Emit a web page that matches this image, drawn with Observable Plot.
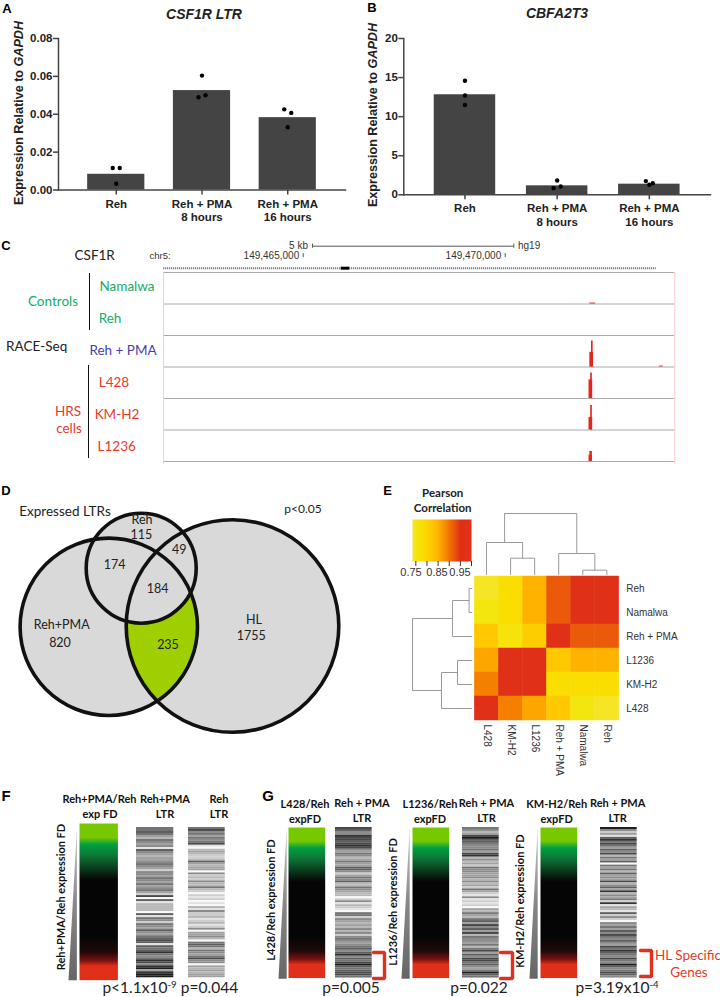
<!DOCTYPE html>
<html><head><meta charset="utf-8">
<script src="https://cdn.jsdelivr.net/npm/d3@7"></script>
<script src="https://cdn.jsdelivr.net/npm/@observablehq/plot@0.6"></script>
<style>
html,body{margin:0;padding:0;background:#fff}
#root{position:relative;width:720px;height:997px;overflow:hidden;background:#fff}
#root>svg{position:absolute;margin:0;overflow:visible}
.t{position:absolute;white-space:nowrap;line-height:1}
sup{font-size:.62em;line-height:0;vertical-align:.55em}
</style></head><body><div id="root"></div>
<script>
// ---------- data ----------
const barGroups = ["Reh", "Reh + PMA\n8 hours", "Reh + PMA\n16 hours"];
const csf1rMeans = [0.0083, 0.0525, 0.0382];
// [group, value, side of the bar centre]
const csf1rPoints = [[0,0.0116,-1],[0,0.0033,0],[0,0.0116,1],[1,0.0490,-1],[1,0.0604,0],[1,0.0500,1],[2,0.0426,-1],[2,0.0331,0],[2,0.0407,1]];
const cbfa2t3Means = [12.8, 1.15, 1.36];
const cbfa2t3Points = [[0,14.6,0],[0,12.7,0],[0,11.5,0],[1,0.85,-1],[1,1.83,0],[1,1.07,1],[2,1.75,-1],[2,1.28,0],[2,1.49,1]];

const trackLines = [0,1,2,3,4,5,6];
const genomeDomain = [149461542, 149474198];
const coordTicks = [149465000, 149470000];
const geneBody = [149461542, 149473740];
const geneExon = [149465941, 149466153];
const scaleBar = [149465230, 149470213];
// [track baseline, start, end, height in track units]
const peaks = [
 [1,149472095,149472240,0.03],
 [3,149472095,149472186,0.465],[3,149472136,149472177,0.825],[3,149473819,149473910,0.03],
 [4,149472075,149472166,0.59],[4,149472116,149472157,0.81],
 [5,149472075,149472166,0.40],[5,149472116,149472157,0.78],
 [6,149472075,149472157,0.20],[6,149472095,149472157,0.32]
];

const vennSets = [
 {name:"Reh+PMA", cx:108.3, cy:626.3, r:88.7},
 {name:"Reh", cx:140.7, cy:567.7, r:55},
 {name:"HL", cx:232, cy:625.5, r:106.3}
];

const heatCols = ["L428","KM-H2","L1236","Reh + PMA","Namalwa","Reh"];
const heatRows = ["Reh","Namalwa","Reh + PMA","L1236","KM-H2","L428"];
const heatValues = [
 [0.74,0.78,0.85,0.92,0.97,0.97],
 [0.75,0.78,0.85,0.92,0.97,0.97],
 [0.82,0.76,0.81,0.97,0.92,0.92],
 [0.86,0.955,0.96,0.82,0.85,0.85],
 [0.89,0.97,0.955,0.78,0.78,0.78],
 [0.97,0.89,0.86,0.82,0.75,0.74]
];
const corrStops = [0.735,0.75,0.78,0.82,0.85,0.89,0.92,0.95,1];
const corrColors = ["#f8e430","#f3e60f","#fade00","#ffc800","#ffb300","#f58000","#ea5a08","#e03018","#e03018"];
const corrTicks = [0.75,0.8,0.85,0.9,0.95,1];
// [position a, position b, height of a, height of b, height of merge]
const colMerges = [[1,2,0,0,16.3],[0,1.5,0,16.3,32],[4,5,0,0,4.3],[3,4.5,0,4.3,21],[0.75,3.75,32,21,61]];
const rowMerges = [[0,1,0,0,2.7],[0.5,2,2.7,0,19.3],[3,4,0,0,14.3],[3.5,5,14.3,0,30.3],[1.25,4.25,19.3,30.3,59.3]];

const fdStops = [0,0.09,0.135,0.2,0.36,0.72,0.82,0.875,0.91,1];
const fdColors = ["#78c800","#78c800","#00a040","#0e7a38","#050505","#050505","#1e0a08","#7a1210","#e03018","#e03018"];

const stripF1 = [6,6,7,6,4,3,6,5,4,5,1,7,5,4,3,4,4,5,6,5,4,2,5,5,4,6,5,4,6,4,5,6,4,2,8,0,7,1,3,3,3,3,0,7,1,6,5,2,6,5,4,7,5,4,6,7,8,7,1,7,6,7,9,6,5,6,9,8,5,9,10,4,9,10,10];
const stripF2 = [6,8,5,6,4,6,5,6,8,1,0,3,4,3,2,2,3,7,4,3,4,4,0,5,2,3,2,5,3,3,6,3,2,0,2,1,2,0,1,0,3,1,5,2,2,3,1,2,3,1,2,5,0,4,4,5,3,0,6,7,6,3,6,5,4,6,8,5,5,0,4,3,4,3,4,4];
const stripG1 = [8,7,5,5,9,8,8,7,8,9,8,5,4,6,5,3,4,6,4,4,7,7,5,2,4,6,5,7,3,3,6,5,4,3,3,0,2,5,1,3,2,1,0,6,6,2,5,4,3,4,3,5,3,5,2,5,6,5,4,5,6,7,5,7,9,5,7,6,8,10,7,6,7,8,8,6];
const stripG2 = [6,5,3,4,8,10,7,7,6,5,5,6,4,8,9,3,5,3,4,2,6,5,5,4,4,5,3,5,3,4,2,6,4,2,1,5,1,2,1,2,0,4,3,6,4,3,6,7,4,8,5,7,4,8,3,6,5,5,4,6,3,6,8,4,7,5,8,8,6,7,5,4,6,10,7,6];
const stripG3 = [10,5,2,4,1,7,9,6,8,6,4,7,5,8,3,6,4,7,0,6,4,6,3,7,4,5,4,8,3,5,7,4,9,3,5,4,6,2,9,1,4,3,1,7,2,5,2,0,5,4,6,4,7,5,8,6,5,7,5,4,8,6,9,7,6,5,8,6,5,10,7,5,6,8,7,5];

// ---------- helpers ----------
const root = document.getElementById("root");
const SANS = "'Liberation Sans',Arial,sans-serif", HUM = "Lato,'Open Sans',sans-serif";
function place(svg, left, top){ svg.style.left = left+"px"; svg.style.top = top+"px"; root.appendChild(svg); return svg; }
function lab(x, y, html, o={}){
  const d = document.createElement("div"); d.className = "t"; d.innerHTML = html;
  const anchor = o.anchor==="start" ? "0" : o.anchor==="end" ? "-100%" : "-50%";
  d.style.cssText += `left:${x}px;top:${y}px;font-family:${o.family||HUM};font-size:${o.size||13}px;font-weight:${o.weight||"normal"};color:${o.color||"#222"};text-align:center;transform:translate(${anchor},-50%)${o.rotate?` rotate(${o.rotate}deg)`:""};`;
  root.appendChild(d); return d;
}
function block(x, y, w, h, color){
  const d = document.createElement("div");
  d.style.cssText = `position:absolute;left:${x}px;top:${y}px;width:${w}px;height:${h}px;background:${color}`;
  root.appendChild(d);
}

// ---------- A, B ----------
function barPlot(means, points, o){
  const table = barGroups.map((g,i)=>({g, v:means[i]}));
  const pts = points.map(([i,v,s])=>({g:barGroups[i], v, s}));
  const axisStyle = {stroke:"#444", strokeWidth:1.5, tickSize:5, label:null};
  return Plot.plot({
    width:o.width, height:o.height, marginLeft:o.ml, marginRight:o.mr, marginTop:o.mt, marginBottom:o.mb,
    style:{fontFamily:SANS, fontSize:"11.5px", fontWeight:"bold", color:"#222", background:"transparent", overflow:"visible"},
    x:{domain:barGroups, padding:0.333, paddingOuter:o.po, round:false},
    y:{domain:o.domain},
    marks:[
      Plot.barY(table,{x:"g",y:"v",fill:"#444"}),
      ...[-1,0,1].map(s=>Plot.dot(pts.filter(d=>d.s===s),{x:"g",y:"v",dx:s*3.5,r:2.2,fill:"#000"})),
      Plot.axisY({...axisStyle, ticks:o.ticks, tickFormat:o.fmt, tickPadding:1}),
      Plot.axisX({...axisStyle, tickPadding:3, lineHeight:1.17}),
      Plot.frame({anchor:"left",stroke:"#444",strokeWidth:1.5}),
      Plot.frame({anchor:"bottom",stroke:"#444",strokeWidth:1.5})
    ]
  });
}
place(barPlot(csf1rMeans, csf1rPoints, {width:350,height:225,ml:58,mr:5,mt:38,mb:35.5,po:0.34,domain:[0,0.08],ticks:[0,0.02,0.04,0.06,0.08],fmt:d3.format(".2f")}),0,0);
place(barPlot(cbfa2t3Means, cbfa2t3Points, {width:360,height:225,ml:43.3,mr:10,mt:38,mb:30.7,po:0.33,domain:[0,20],ticks:[0,5,10,15,20],fmt:d3.format("d")}),360,0);
lab(204,13.5,"CSF1R LTR",{family:SANS,size:14,weight:"bold"}).style.fontStyle="italic";
lab(557,12.7,"CBFA2T3",{family:SANS,size:14,weight:"bold"}).style.fontStyle="italic";
lab(19,113,"Expression Relative to <i>GAPDH</i>",{family:SANS,size:12.6,weight:"bold",rotate:-90});
lab(373,115,"Expression Relative to <i>GAPDH</i>",{family:SANS,size:12.6,weight:"bold",rotate:-90});

// ---------- C ----------
const peakRows = peaks.map(([t,a,b,h])=>({t,a,b,top:t-h}));
place(Plot.plot({
  width:720,height:230,marginLeft:163,marginRight:45.7,marginTop:32,marginBottom:9,
  style:{fontFamily:SANS,fontSize:"10px",color:"#333",background:"transparent",overflow:"visible"},
  x:{domain:genomeDomain,axis:null},
  y:{domain:[6,0],axis:null},
  marks:[
    Plot.ruleY(trackLines,{stroke:"#aaa",strokeWidth:1}),
    Plot.ruleX(genomeDomain,{y1:0,y2:6.1,stroke:"#ffc8cc",strokeWidth:1}),
    Plot.ruleY([-0.137],{x1:geneBody[0],x2:geneBody[1],stroke:"#7878b8",strokeWidth:2,strokeDasharray:"1.2,0.8"}),
    Plot.ruleY([-0.137],{x1:geneExon[0],x2:geneExon[1],stroke:"#000",strokeWidth:3}),
    Plot.ruleY([-0.835],{x1:scaleBar[0],x2:scaleBar[1],stroke:"#555",strokeWidth:1}),
    Plot.ruleX(scaleBar,{y1:-0.9,y2:-0.77,stroke:"#555"}),
    Plot.ruleX(coordTicks,{y1:-0.6,y2:-0.47,stroke:"#555"}),
    Plot.text(coordTicks,{x:d=>d,y:-0.54,text:d=>d3.format(",")(d),textAnchor:"end",dx:-4}),
    Plot.rect(peakRows,{x1:"a",x2:"b",y1:"t",y2:"top",fill:"#e3261c"})
  ]
}),0,240);
lab(94.7,256,"CSF1R",{size:13.5,color:"#222"});
lab(160,255.7,"chr5:",{family:SANS,size:9.5,color:"#333"});
lab(308,246,"5 kb",{family:SANS,size:10,color:"#333",anchor:"end"});
lab(518,245.5,"hg19",{family:SANS,size:10,color:"#333",anchor:"start"});
const GREEN="#14ad6b", BLUE="#4a3fa6", RED="#e8392a";
lab(127,286.7,"Namalwa",{size:13.5,color:GREEN});
lab(110,319,"Reh",{size:13.5,color:GREEN});
lab(53,302,"Controls",{size:13.5,color:GREEN});
lab(36.7,346.7,"RACE-Seq",{size:13.5,color:"#222"});
lab(123,350.7,"Reh + PMA",{size:13.5,color:BLUE});
lab(114,382.7,"L428",{size:13.5,color:RED});
lab(117,415,"KM-H2",{size:13.5,color:RED});
lab(116.7,447,"L1236",{size:13.5,color:RED});
lab(68,412,"HRS",{size:13.5,color:RED});
lab(69,429.3,"cells",{size:13.5,color:RED});
block(88.7,272.7,1.4,57.5,"#111");
block(87.7,365,1.4,93,"#111");

// ---------- D ----------
function inter(a,b){
  const dx=b.cx-a.cx, dy=b.cy-a.cy, d=Math.hypot(dx,dy);
  const l=(a.r*a.r-b.r*b.r+d*d)/(2*d), h=Math.sqrt(a.r*a.r-l*l);
  const mx=a.cx+l*dx/d, my=a.cy+l*dy/d;
  const p1={x:mx+h*dy/d,y:my-h*dx/d}, p2={x:mx-h*dy/d,y:my+h*dx/d};
  return p1.y>p2.y?p1:p2;
}
function arc(c,p,q){
  const a0=Math.atan2(p.y-c.cy,p.x-c.cx); let a1=Math.atan2(q.y-c.cy,q.x-c.cx);
  let da=a1-a0; while(da>Math.PI)da-=2*Math.PI; while(da<-Math.PI)da+=2*Math.PI;
  return d3.range(41).map(i=>({x:c.cx+c.r*Math.cos(a0+da*i/40),y:c.cy+c.r*Math.sin(a0+da*i/40)}));
}
const [sPMA,sReh,sHL] = vennSets;
const P=inter(sPMA,sHL), Q=inter(sHL,sReh), R=inter(sPMA,sReh);
const lens=[...arc(sHL,P,Q),...arc(sReh,Q,R),...arc(sPMA,R,P)];
const vennDot = {x:"cx",y:"cy",r:"r"};
place(Plot.plot({
  width:370,height:260,margin:0,
  x:{domain:[0,370],axis:null},y:{domain:[480,740],reverse:false,range:[0,260],axis:null},
  r:{type:"identity"},
  style:{background:"transparent",overflow:"hidden"},
  marks:[
    Plot.dot(vennSets,{...vennDot,fill:"#d9d9d9",stroke:"none"}),
    Plot.line(lens,{x:"x",y:"y",fill:"#9fcf00",stroke:"none"}),
    Plot.dot(vennSets,{...vennDot,fill:"none",stroke:"#111",strokeWidth:3.6})
  ]
}),0,480);
lab(65,511.7,"Expressed LTRs",{size:13.5});
lab(303,509,"p&lt;0.05",{size:12});
[[142,520,"Reh"],[141.3,535,"115"],[179.3,550.3,"49"],[114.7,565.3,"174"],[157.7,589,"184"],[61.7,625,"Reh+PMA"],[60,642.7,"820"],[168,645,"235"],[254,619.7,"HL"],[251.3,636.3,"1755"]].forEach(([x,y,s])=>lab(x,y,s,{size:12.5}));

// ---------- E ----------
const corrScale = {type:"linear",domain:corrStops,range:corrColors};
const heatCells = heatRows.flatMap((r,i)=>heatCols.map((c,j)=>({r,c,v:heatValues[i][j]})));
place(Plot.plot({
  width:240,height:204,marginLeft:14.3,marginRight:81.3,marginTop:0,marginBottom:60,
  style:{fontFamily:SANS,fontSize:"10px",color:"#333",background:"transparent",overflow:"visible"},
  x:{domain:heatCols,padding:0,round:false},
  y:{domain:heatRows,padding:0,round:false},
  color:corrScale,
  marks:[
    Plot.cell(heatCells,{x:"c",y:"r",fill:"v",stroke:"v",strokeWidth:0.5}),
    Plot.axisX({tickRotate:90,tickSize:0,tickPadding:4,label:null,anchor:"bottom"}),
    Plot.axisY({tickSize:0,tickPadding:7,label:null,anchor:"right"})
  ]
}),460,575.7);
function dendroPoints(merges){
  return merges.flatMap(([a,b,ha,hb,h],id)=>[{id,p:a,h:ha},{id,p:a,h},{id,p:b,h},{id,p:b,h:hb}]);
}
const dendroStyle = {z:"id",stroke:"#9a9a9a",strokeWidth:1,curve:"linear"};
place(Plot.plot({
  width:144.4,height:61,margin:0,
  style:{background:"transparent",overflow:"visible"},
  x:{domain:[-0.5,5.5],axis:null},y:{domain:[0,61],axis:null},
  marks:[Plot.line(dendroPoints(colMerges),{x:"p",y:"h",...dendroStyle})]
}),474.3,513.3);
place(Plot.plot({
  width:59.3,height:144,margin:0,
  style:{background:"transparent",overflow:"visible"},
  x:{domain:[59.3,0],axis:null},y:{domain:[-0.5,5.5],reverse:true,axis:null},
  marks:[Plot.line(dendroPoints(rowMerges),{x:"h",y:"p",...dendroStyle})]
}),412.4,575.7);
place(Plot.plot({
  width:59,height:48,marginLeft:0,marginRight:0,marginTop:0,marginBottom:6,
  style:{background:"transparent",overflow:"visible",color:"#333"},
  x:{domain:[0.735,1],range:[0,59]},y:{domain:[0,1],axis:null},color:corrScale,
  marks:[
    Plot.raster({x1:0.735,x2:1,y1:0,y2:1,width:59,height:1,fill:(x)=>x}),
    Plot.axisX({ticks:corrTicks,tickFormat:()=>"",tickSize:5,label:null})
  ]
}),412,519);
[[411,"0.75"],[437,"0.85"],[460,"0.95"]].forEach(([x,s])=>lab(x,572,s,{family:SANS,size:11,color:"#333"}));
lab(442.7,492.7,"Pearson",{size:11.5,weight:"bold"});
lab(442.7,507.7,"Correlation",{size:11.5,weight:"bold"});

// ---------- F, G ----------
let gradId = 0;
function defs(stops,colors,id){
  return () => {
    const g = d3.create("svg:defs").append("linearGradient").attr("id",id).attr("x1",0).attr("x2",0).attr("y1",0).attr("y2",1);
    stops.forEach((s,i)=>g.append("stop").attr("offset",s).attr("stop-color",colors[i]));
    return g.node().parentNode;
  };
}
function fdBar(x,y,w,h){
  const id="fd"+(gradId++);
  place(Plot.plot({width:w,height:h,margin:0,x:{domain:[0,1],axis:null},y:{domain:[0,1],axis:null},style:{background:"transparent"},
    marks:[defs(fdStops,fdColors,id),Plot.frame({fill:`url(#${id})`,stroke:"none"})]}),x,y);
}
const triCorners=[{x:1,y:1},{x:0,y:0},{x:1,y:0}];
function wedge(x,y,w,h){
  const id="tri"+(gradId++);
  place(Plot.plot({width:w,height:h,margin:0,x:{domain:[0,1],axis:null},y:{domain:[0,1],axis:null},style:{background:"transparent"},
    marks:[defs([0,0.5,1],["#c8c8c8","#888","#666"],id),Plot.line(triCorners,{x:"x",y:"y",fill:`url(#${id})`,stroke:"none"})]}),x,y);
}
function strip(values,x,y,w,h){
  const rows=values.map((v,i)=>({i,v}));
  place(Plot.plot({width:w,height:h,margin:0,style:{background:"transparent"},
    x:{axis:null},y:{type:"band",domain:rows.map(d=>d.i),padding:0,round:false,axis:null},
    color:{type:"linear",domain:[0,10],range:["#f8f8f8","#1c1c1c"]},
    marks:[Plot.cell(rows,{y:"i",fill:"v"})]}),x,y);
}
const bracketCorners=[{x:0,y:0},{x:1,y:0},{x:1,y:1},{x:0,y:1}];
function bracket(x,y,w,h){
  place(Plot.plot({width:w,height:h,margin:0,x:{domain:[0,1],axis:null},y:{domain:[1,0],axis:null},style:{background:"transparent",overflow:"visible"},
    marks:[Plot.line(bracketCorners,{x:"x",y:"y",stroke:"#e03020",strokeWidth:3.4,strokeLinejoin:"miter",curve:"linear"})]}),x,y);
}
const bold={size:11,weight:"bold",color:"#111"};
// F
wedge(68.3,828,8.4,152);
fdBar(79.3,823.3,38.4,156.7);
strip(stripF1,136,826.7,37.3,150.3);
strip(stripF2,188.3,826.7,36.7,150.3);
lab(99.5,798,"Reh+PMA/Reh",bold);lab(100,813,"exp FD",bold);
lab(165,798,"Reh+PMA",bold);lab(165,813,"LTR",bold);
lab(219,797.5,"Reh",bold);lab(219,812.5,"LTR",bold);
lab(60,897,"Reh+PMA/Reh expression FD",{...bold,rotate:-90});
lab(139.5,988,"p&lt;1.1x10<sup>-9</sup>",{size:15.5});
lab(209.5,988,"p=0.044",{size:15.5});
// G
const gCols=[
 {wx:278,bx:288.3,sx:335,sv:stripG1,rx:373,ry:951.5,rw:11,name:"L428/Reh",tc:305,lc:362,rot:"L428/Reh expression FD",rotx:270,roty:899.5,p:"p=0.005",pc:351},
 {wx:401,bx:412,sx:462.3,sv:stripG2,rx:500,ry:951.5,rw:12,name:"L1236/Reh",tc:430,lc:486.5,rot:"L1236/Reh expression FD",rotx:392,roty:902,p:"p=0.022",pc:479},
 {wx:529.3,bx:540.3,sx:600,sv:stripG3,rx:639.5,ry:950,rw:11,name:"KM-H2/Reh",tc:556.7,lc:617.7,rot:"KM-H2/Reh expression FD",rotx:519.3,roty:900.5,p:"p=3.19x10<sup>-4</sup>",pc:617}
];
gCols.forEach(c=>{
  wedge(c.wx,826.7,8.2,151.6);
  fdBar(c.bx,826.7,36.7,150.6);
  strip(c.sv,c.sx,826.7,36.7,150.6);
  bracket(c.rx,c.ry,c.rw,26);
  lab(c.tc,802.5,c.name,bold);lab(c.tc,817.5,"expFD",bold);
  lab(c.lc,802,"Reh + PMA",bold);lab(c.lc,817,"LTR",bold);
  lab(c.rotx,c.roty,c.rot,{...bold,rotate:-90});
  lab(c.pc,988,c.p,{size:15.5});
});
lab(688,955.7,"HL Specific",{size:13.5,color:RED});
lab(689,972.5,"Genes",{size:13.5,color:RED});

// ---------- panel letters ----------
const letter={family:SANS,weight:"bold",size:13,color:"#000"};
[[7,7.5,"A"],[372,7,"B"],[6,245,"C"],[6,489.5,"D"],[387.5,489.5,"E"]].forEach(([x,y,s])=>lab(x,y,s,letter));
[[6,794.5,"F"],[268,794.5,"G"]].forEach(([x,y,s])=>lab(x,y,s,{...letter,size:15}));
</script></body></html>
